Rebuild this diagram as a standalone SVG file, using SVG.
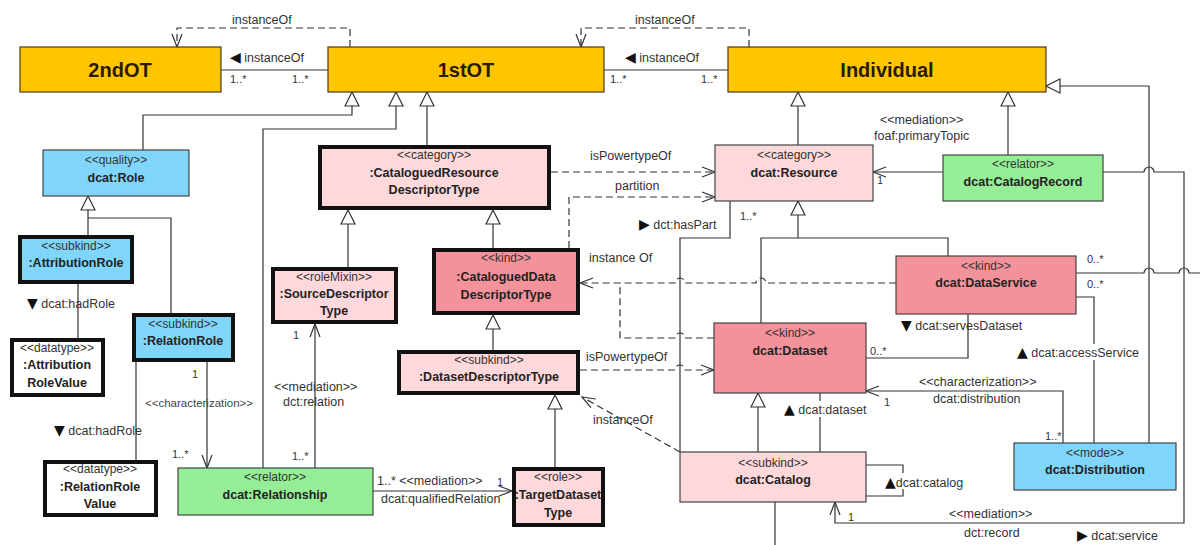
<svg xmlns="http://www.w3.org/2000/svg" width="1200" height="545" viewBox="0 0 1200 545">
<style>
.st{font-family:"Liberation Sans",Arial,sans-serif;font-size:12px;fill:#333;text-anchor:middle}
.nm{font-family:"Liberation Sans",Arial,sans-serif;font-size:12.5px;font-weight:bold;fill:#222;text-anchor:middle}
.top{font-family:"Liberation Sans",Arial,sans-serif;font-size:20px;font-weight:bold;fill:#2a1a00;text-anchor:middle}
.lb{font-family:"Liberation Sans","DejaVu Sans",sans-serif;font-size:12.5px;fill:#333}
.tri{font-family:"DejaVu Sans",sans-serif;font-size:14px;fill:#111}
.mu{font-family:"Liberation Sans",sans-serif;font-size:11px;fill:#333}
.gold{fill:#FFC600;stroke:#4a3a20;stroke-width:1.2}
.blue{fill:#80D6FA}
.pink{fill:#FFD8DC}
.kind{fill:#F4929B}
.green{fill:#95EE95}
.white{fill:#fff}
.thk{stroke:#111;stroke-width:4}
.thn{stroke:#444;stroke-width:1.2}
.ln{fill:none;stroke:#333;stroke-width:1.2}
.ds{stroke-dasharray:7 4}
.bg{fill:#fff}
</style>
<defs>
<marker id="gen" markerUnits="userSpaceOnUse" viewBox="0 0 17 16" markerWidth="17" markerHeight="16" refX="15" refY="8" orient="auto">
<path d="M1,1 L15,8 L1,15 Z" fill="#fff" stroke="#333" stroke-width="1.2"/>
</marker>
<marker id="open" markerUnits="userSpaceOnUse" viewBox="0 0 16 12" markerWidth="16" markerHeight="12" refX="14" refY="6" orient="auto">
<path d="M1,1 L14,6 L1,11" fill="none" stroke="#333" stroke-width="1.2"/>
</marker>
</defs>
<rect width="1200" height="545" fill="#fff"/>

<g id="connectors">
<path class="ln" d="M221,70 H328"/>
<path class="ln ds" d="M350,47 V28 H177 V47" marker-end="url(#open)"/>
<path class="ln" d="M604,70 H728"/>
<path class="ln ds" d="M749,47 V28 H581 V47" marker-end="url(#open)"/>
<path class="ln" d="M143,150 V115 H352 V92" marker-end="url(#gen)"/>
<path class="ln" d="M263,468 V129 H396 V92" marker-end="url(#gen)"/>
<path class="ln" d="M427,145 V92" marker-end="url(#gen)"/>
<path class="ln" d="M348,267 V210" marker-end="url(#gen)"/>
<path class="ln" d="M493,248 V210" marker-end="url(#gen)"/>
<path class="ln" d="M493,350 V315" marker-end="url(#gen)"/>
<path class="ln" d="M555,467 V395" marker-end="url(#gen)"/>
<path class="ln" d="M171,313 V218 H88"/>
<path class="ln" d="M88,235 V196" marker-end="url(#gen)"/>
<path class="ln" d="M78,284 V338"/>
<path class="ln" d="M136,362 V460"/>
<path class="ln" d="M207,362 V468" marker-end="url(#open)"/>
<path class="ln" d="M315,468 V324" marker-end="url(#open)"/>
<path class="ln" d="M373,491 H512" marker-end="url(#open)"/>
<path class="ln" d="M798,145 V92" marker-end="url(#gen)"/>
<path class="ln" d="M1008,155 V92" marker-end="url(#gen)"/>
<path class="ln" d="M1149,443 V86 H1046" marker-end="url(#gen)"/>
<path class="ln" d="M943,172 H873" marker-end="url(#open)"/>
<path class="ln" d="M1103,172 H1144 A5,5 0 0 1 1154,172 H1184 V523 H835 V502" marker-end="url(#open)"/>
<path class="ln ds" d="M551,172 H715" marker-end="url(#open)"/>
<path class="ln ds" d="M569,248 V197 H715" marker-end="url(#open)"/>
<path class="ln" d="M730,201 V238 H680 V452"/>
<path class="ln" d="M798,238 V201" marker-end="url(#gen)"/>
<path class="ln" d="M761,323 V238 H948 V256"/>
<path class="ln ds" d="M896,283 H766 A5,5 0 0 0 756,283 H685 A5,5 0 0 0 675,283 H580" marker-end="url(#open)"/>
<path class="ln ds" d="M714,338 H685 A5,5 0 0 0 675,338 H620 V283"/>
<path class="ln ds" d="M580,370 H675 A5,5 0 0 1 685,370 H714" marker-end="url(#open)"/>
<path class="ln" d="M968,314 V358 H866"/>
<path class="ln" d="M1076,297 H1094 V443"/>
<path class="ln" d="M1076,273 H1144 A5,5 0 0 1 1154,273 H1179 A5,5 0 0 1 1189,273 H1200"/>
<path class="ln" d="M775,502 V545"/>
<path class="ln" d="M758,452 V393" marker-end="url(#gen)"/>
<path class="ln" d="M820,452 V393"/>
<path class="ln" d="M866,465 H903 V496 H866"/>
<path class="ln" d="M1063,443 V391 H866" marker-end="url(#open)"/>
<path class="ln ds" d="M680,452 L582,397" marker-end="url(#open)"/>

<text class="lb" x="232" y="24">instanceOf</text>
<text class="lb" x="230" y="62"><tspan class="tri">◀</tspan> instanceOf</text>
<text class="mu" x="230" y="83">1..*</text>
<text class="mu" x="292" y="83">1..*</text>
<text class="lb" x="635" y="24">instanceOf</text>
<text class="lb" x="625" y="62"><tspan class="tri">◀</tspan> instanceOf</text>
<text class="mu" x="610" y="83">1..*</text>
<text class="mu" x="701" y="83">1..*</text>

<text class="lb" x="27" y="308"><tspan class="tri">▼</tspan> dcat:hadRole</text>
<text class="lb" x="54" y="435"><tspan class="tri">▼</tspan> dcat:hadRole</text>
<text class="mu" x="192" y="378">1</text>
<text class="lb" x="145" y="407" style="font-size:11.5px;fill:#444">&lt;&lt;characterization&gt;&gt;</text>
<text class="mu" x="172" y="458">1..*</text>
<text class="mu" x="293" y="339">1</text>
<text class="lb" x="274" y="391">&lt;&lt;mediation&gt;&gt;</text>
<text class="lb" x="283" y="406">dct:relation</text>
<text class="mu" x="292" y="460">1..*</text>
<text class="lb" x="377" y="485">1..* &lt;&lt;mediation&gt;&gt;</text>
<text class="lb" x="381" y="503">dcat:qualifiedRelation</text>
<text class="mu" x="497" y="486">1</text>

<text class="lb" x="880" y="124">&lt;&lt;mediation&gt;&gt;</text>
<text class="lb" x="874" y="140">foaf:primaryTopic</text>
<text class="mu" x="877" y="184">1</text>
<text class="lb" x="590" y="160">isPowertypeOf</text>
<text class="lb" x="615" y="190">partition</text>
<text class="lb" x="639" y="229"><tspan class="tri">▶</tspan> dct:hasPart</text>
<text class="mu" x="740" y="220">1..*</text>
<text class="lb" x="589" y="262">instance Of</text>
<text class="lb" x="586" y="361">isPowertypeOf</text>
<text class="lb" x="593" y="424">instanceOf</text>
<text class="lb" x="901" y="330"><tspan class="tri">▼</tspan> dcat:servesDataset</text>
<text class="mu" x="870" y="355">0..*</text>
<rect class="bg" x="1016" y="344" width="132" height="16"/>
<text class="lb" x="1017" y="357"><tspan class="tri">▲</tspan> dcat:accessService</text>
<text class="mu" x="1087" y="263">0..*</text>
<text class="mu" x="1087" y="288">0..*</text>
<rect class="bg" x="783" y="401" width="92" height="16"/>
<text class="lb" x="784" y="414"><tspan class="tri">▲</tspan> dcat:dataset</text>
<rect class="bg" x="884" y="473" width="88" height="16"/>
<text class="lb" x="885" y="487"><tspan class="tri">▲</tspan>dcat:catalog</text>
<text class="lb" x="919" y="386">&lt;&lt;characterization&gt;&gt;</text>
<text class="lb" x="933" y="403">dcat:distribution</text>
<text class="mu" x="884" y="406">1</text>
<text class="mu" x="1045" y="440">1..*</text>
<text class="mu" x="848" y="521">1</text>
<text class="lb" x="949" y="518">&lt;&lt;mediation&gt;&gt;</text>
<text class="lb" x="964" y="537">dct:record</text>
<text class="lb" x="1077" y="540"><tspan class="tri">▶</tspan> dcat:service</text>
</g>

<g id="n2ndOT"><rect class="gold" x="20" y="47" width="201" height="45"/><text class="top" x="120" y="77">2ndOT</text></g>
<g id="n1stOT"><rect class="gold" x="328" y="47" width="276" height="45"/><text class="top" x="466" y="77">1stOT</text></g>
<g id="nIndividual"><rect class="gold" x="728" y="47" width="318" height="45"/><text class="top" x="887" y="77">Individual</text></g>

<g id="nRole"><rect class="blue thn" x="43" y="150" width="146" height="46"/><text class="st" x="116" y="164">&lt;&lt;quality&gt;&gt;</text><text class="nm" x="116" y="182">dcat:Role</text></g>
<g id="nAttributionRole"><rect class="blue thk" x="20" y="237" width="112" height="45"/><text class="st" x="76" y="250">&lt;&lt;subkind&gt;&gt;</text><text class="nm" x="76" y="267">:AttributionRole</text></g>
<g id="nAttributionRoleValue"><rect class="white thk" x="12" y="340" width="91" height="55"/><text class="st" x="57" y="352">&lt;&lt;datatype&gt;&gt;</text><text class="nm" x="57" y="369">:Attribution</text><text class="nm" x="57" y="387">RoleValue</text></g>
<g id="nRelationRole"><rect class="blue thk" x="134" y="315" width="99" height="45"/><text class="st" x="183" y="328">&lt;&lt;subkind&gt;&gt;</text><text class="nm" x="183" y="345">:RelationRole</text></g>
<g id="nRelationRoleValue"><rect class="white thk" x="45" y="462" width="111" height="53"/><text class="st" x="100" y="473">&lt;&lt;datatype&gt;&gt;</text><text class="nm" x="100" y="491">:RelationRole</text><text class="nm" x="100" y="508">Value</text></g>
<g id="nRelationship"><rect class="green thn" x="178" y="468" width="195" height="47"/><text class="st" x="275" y="481">&lt;&lt;relator&gt;&gt;</text><text class="nm" x="275" y="499">dcat:Relationship</text></g>
<g id="nCRDT"><rect class="pink thk" x="320" y="147" width="229" height="61"/><text class="st" x="434" y="159">&lt;&lt;category&gt;&gt;</text><text class="nm" x="434" y="177">:CataloguedResource</text><text class="nm" x="434" y="194">DescriptorType</text></g>
<g id="nSDT"><rect class="pink thk" x="273" y="269" width="123" height="53"/><text class="st" x="334" y="281">&lt;&lt;roleMixin&gt;&gt;</text><text class="nm" x="334" y="298">:SourceDescriptor</text><text class="nm" x="334" y="315">Type</text></g>
<g id="nCDDT"><rect class="kind thk" x="434" y="250" width="144" height="63"/><text class="st" x="506" y="262">&lt;&lt;kind&gt;&gt;</text><text class="nm" x="506" y="281">:CataloguedData</text><text class="nm" x="506" y="299">DescriptorType</text></g>
<g id="nDDT"><rect class="pink thk" x="399" y="352" width="179" height="41"/><text class="st" x="489" y="364">&lt;&lt;subkind&gt;&gt;</text><text class="nm" x="489" y="381">:DatasetDescriptorType</text></g>
<g id="nTDT"><rect class="pink thk" x="514" y="469" width="89" height="56"/><text class="st" x="558" y="481">&lt;&lt;role&gt;&gt;</text><text class="nm" x="558" y="499">:TargetDataset</text><text class="nm" x="558" y="517">Type</text></g>

<g id="nResource"><rect class="pink thn" x="715" y="145" width="158" height="56"/><text class="st" x="794" y="159">&lt;&lt;category&gt;&gt;</text><text class="nm" x="794" y="177">dcat:Resource</text></g>
<g id="nCatalogRecord"><rect class="green thn" x="943" y="155" width="160" height="46"/><text class="st" x="1023" y="168">&lt;&lt;relator&gt;&gt;</text><text class="nm" x="1023" y="186">dcat:CatalogRecord</text></g>
<g id="nDataService"><rect class="kind thn" x="896" y="256" width="180" height="58"/><text class="st" x="986" y="270">&lt;&lt;kind&gt;&gt;</text><text class="nm" x="986" y="287">dcat:DataService</text></g>
<g id="nDataset"><rect class="kind thn" x="714" y="323" width="152" height="70"/><text class="st" x="790" y="337">&lt;&lt;kind&gt;&gt;</text><text class="nm" x="790" y="355">dcat:Dataset</text></g>
<g id="nCatalog"><rect class="pink thn" x="680" y="452" width="186" height="50"/><text class="st" x="773" y="467">&lt;&lt;subkind&gt;&gt;</text><text class="nm" x="773" y="484">dcat:Catalog</text></g>
<g id="nDistribution"><rect class="blue thn" x="1014" y="443" width="162" height="47"/><text class="st" x="1095" y="457">&lt;&lt;mode&gt;&gt;</text><text class="nm" x="1095" y="474">dcat:Distribution</text></g>
</svg>
